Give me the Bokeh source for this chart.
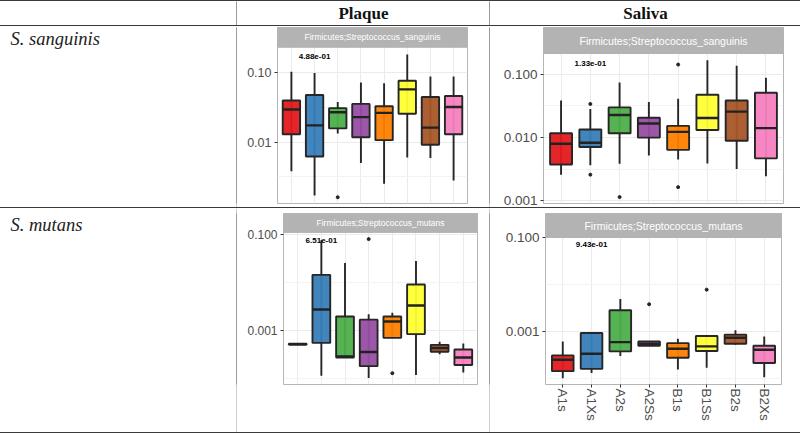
import math
from bokeh.plotting import figure
from bokeh.layouts import column, row
from bokeh.models import (Range1d, FactorRange, FixedTicker, ColumnDataSource, BoxAnnotation,
                          Div)
from bokeh.transform import dodge
from bokeh.core.properties import value
from bokeh.embed import file_html
from bokeh.resources import INLINE

# ---------------- data ----------------
groups = ["A1s", "A1Xs", "A2s", "A2Ss", "B1s", "B1Ss", "B2s", "B2Xs"]
colors = ["#E41A1C", "#377EB8", "#4DAF4A", "#984EA3", "#FF7F00", "#FFFF33", "#A65628", "#F781BF"]

col_headers = ["Plaque", "Saliva"]
row_labels = ["S. sanguinis", "S. mutans"]
strip_titles = ["Firmicutes;Streptococcus_sanguinis", "Firmicutes;Streptococcus_mutans"]

# Plaque, S. sanguinis
ps_low = [0.0038, 0.0017, 0.0134, 0.0050, 0.0025, 0.0060, 0.0059, 0.0028]
ps_q1 = [0.0130, 0.0062, 0.0158, 0.0118, 0.0107, 0.0257, 0.0092, 0.0130]
ps_med = [0.0296, 0.0175, 0.0270, 0.0230, 0.0265, 0.0580, 0.0162, 0.0323]
ps_q3 = [0.0400, 0.0480, 0.0310, 0.0357, 0.0330, 0.0770, 0.0450, 0.0465]
ps_high = [0.1040, 0.1000, 0.0380, 0.0730, 0.0710, 0.1850, 0.0890, 0.0890]
ps_out_g = ["A2s"]
ps_out_v = [0.0016]
ps_p = "4.88e-01"

# Saliva, S. sanguinis
ss_low = [0.0026, 0.00366, 0.00385, 0.0052, 0.0045, 0.0039, 0.0032, 0.00245]
ss_q1 = [0.00375, 0.0071, 0.0117, 0.0100, 0.0064, 0.0132, 0.0089, 0.0047]
ss_med = [0.0080, 0.0083, 0.0227, 0.0167, 0.0123, 0.0204, 0.0257, 0.0141]
ss_q3 = [0.0117, 0.0134, 0.0300, 0.0206, 0.0153, 0.0474, 0.0385, 0.0510]
ss_high = [0.0385, 0.0283, 0.0745, 0.0366, 0.0410, 0.1670, 0.1370, 0.0885]
ss_out_g = ["A1Xs", "A1Xs", "A2s", "B1s", "B1s"]
ss_out_v = [0.034, 0.0026, 0.00115, 0.1425, 0.00165]
ss_p = "1.33e-01"

# Plaque, S. mutans
pm_low = [0.00052, 0.000117, 0.00028, 0.000105, 0.000718, 0.000121, 0.000327, 0.000136]
pm_q1 = [0.00052, 0.000564, 0.000281, 0.000185, 0.000718, 0.00086, 0.000369, 0.000196]
pm_med = [0.00053, 0.00279, 0.000296, 0.000364, 0.00157, 0.0034, 0.000442, 0.000281]
pm_q3 = [0.00054, 0.0147, 0.0020, 0.00172, 0.0020, 0.0093, 0.000514, 0.00041]
pm_high = [0.00054, 0.0774, 0.026, 0.00223, 0.0024, 0.0286, 0.000598, 0.000547]
pm_out_g = ["A2Ss", "B1s"]
pm_out_v = [0.082, 0.000132]
pm_p = "6.51e-01"

# Saliva, S. mutans
sm_low = [0.00010, 0.000128, 0.000296, 0.000493, 0.000153, 0.000166, 0.00052, 0.000105]
sm_q1 = [0.000141, 0.000158, 0.000373, 0.000493, 0.000273, 0.000379, 0.000544, 0.00021]
sm_med = [0.000247, 0.000332, 0.00059, 0.000544, 0.000425, 0.000477, 0.00073, 0.000405]
sm_q3 = [0.000306, 0.00092, 0.00282, 0.00061, 0.00056, 0.000794, 0.00085, 0.000493]
sm_high = [0.00061, 0.00092, 0.00493, 0.00061, 0.000697, 0.000794, 0.00105, 0.00078]
sm_out_g = ["A2Ss", "B1Ss"]
sm_out_v = [0.0038, 0.0078]
sm_p = "9.43e-01"

# ---------------- styling ----------------
LINE = "#3a3a3a"
STRIP = "#b3b3b3"
GRID = "#ebebeb"
AXIS_TXT = "#4d4d4d"
EDGE = "#262626"

COLW = [236, 252, 310]
ROWH = [24, 181, 224]
W = sum(COLW) + 2


def blank(w, h, fill="white"):
    f = figure(width=w, height=h, x_axis_type=None, y_axis_type=None,
               x_range=Range1d(0, w), y_range=Range1d(h, 0),
               toolbar_location=None, output_backend="svg", title=None,
               min_border=0, background_fill_color=fill, border_fill_color=fill,
               outline_line_color=None)
    f.grid.visible = False
    return f


def hline():
    return Div(text="", width=W, height=1, margin=0,
               styles={"background-color": LINE, "width": f"{W}px", "height": "1px"})


def vline(h):
    return blank(1, h, LINE)


def header_cell(w, h, txt):
    f = blank(w, h)
    if txt:
        f.text(x=[w / 2], y=[h / 2], text=[txt], text_align="center",
               text_baseline="middle", text_font=value("Liberation Serif"),
               text_font_style="bold", text_font_size="17px", text_color="#111111")
    return f


def label_cell(w, h, txt):
    f = blank(w, h)
    f.text(x=[10], y=[2], text=[txt], text_align="left", text_baseline="top",
           text_font=value("Liberation Serif"), text_font_style="italic",
           text_font_size="18.5px", text_color="#222222")
    return f


def box_fig(w, top, strip_h, panel_h, bottom, left, right, ylo, yhi, ticks, labels, minor,
            low, q1, med, q3, high, out_g, out_v, ptxt, ptxt_y, title, title_fs, fs, show_x):
    dpp = (math.log10(yhi) - math.log10(ylo)) / panel_h  # decades per pixel
    y_end = 10 ** (math.log10(yhi) + strip_h * dpp)
    y_mid = 10 ** (math.log10(yhi) + strip_h * dpp / 2)
    f = figure(width=w, height=top + strip_h + panel_h + bottom,
               x_range=FactorRange(*groups, range_padding=0.1, range_padding_units="absolute"),
               y_range=Range1d(ylo, y_end), y_axis_type="log",
               toolbar_location=None, output_backend="svg", title=None,
               min_border_left=left, min_border_right=right, min_border_top=top,
               min_border_bottom=bottom, background_fill_color="white",
               border_fill_color="white", outline_line_color="#b5b5b5",
               outline_line_width=1)
    src = ColumnDataSource(dict(g=groups, low=low, q1=q1, med=med, q3=q3, high=high, c=colors))
    f.segment(x0="g", x1="g", y0="low", y1="high", source=src, line_color=EDGE,
              line_width=1.9)
    f.vbar(x="g", bottom="q1", top="q3", width=0.75, source=src, fill_color="c",
           fill_alpha=0.95, line_color=EDGE, line_width=1.9)
    f.rect(x="g", y="med", width=0.75, height=2.4, height_units="screen", source=src,
           fill_color="#222222", line_color=None)
    f.scatter(x=out_g, y=out_v, size=3, color="#222222")
    f.text(x=["A1Xs"], y=[ptxt_y], text=[ptxt], text_align="center", text_baseline="middle",
           text_font=value("Liberation Sans"), text_font_style="bold",
           text_font_size="8px", text_color="black")

    # facet strip (panel strip: full width band above the data area)
    f.add_layout(BoxAnnotation(bottom=yhi, fill_color=STRIP, fill_alpha=1.0,
                               line_color=STRIP, line_alpha=1.0, level="annotation"))
    tsrc = ColumnDataSource(dict(x=[groups[3]], y=[y_mid], t=[title]))
    tr = f.text(x=dodge("x", 0.5, range=f.x_range), y="y", text="t", source=tsrc,
                text_align="center", text_baseline="middle", text_font=value("Liberation Sans"),
                text_font_size=title_fs, text_color="white")
    tr.level = "overlay"

    ya = f.yaxis[0]
    ya.ticker = FixedTicker(ticks=ticks, minor_ticks=minor)
    ya.major_label_overrides = {t: l for t, l in zip(ticks, labels)}
    ya.axis_line_color = None
    ya.major_tick_line_color = "#333333"
    ya.major_tick_out = 3
    ya.major_tick_in = 0
    ya.minor_tick_line_color = None
    ya.major_label_text_font = "Liberation Sans"
    ya.major_label_text_font_size = fs
    ya.major_label_text_color = AXIS_TXT
    ya.major_label_standoff = 2

    xa = f.xaxis[0]
    if show_x:
        xa.axis_line_color = None
        xa.major_tick_line_color = "#333333"
        xa.major_tick_out = 3
        xa.major_tick_in = 0
        xa.major_label_orientation = "vertical"
        xa.major_label_text_font = "Liberation Sans"
        xa.major_label_text_font_size = "13.5px"
        xa.major_label_text_color = AXIS_TXT
        xa.major_label_standoff = 1
    else:
        xa.visible = False

    f.xgrid.grid_line_color = GRID
    f.ygrid.grid_line_color = GRID
    f.ygrid.minor_grid_line_color = "#f3f3f3"
    return f


# ---------------- panels ----------------
p11 = box_fig(COLW[1], 1, 20, 158, 2, 40, 22, 0.0013, 0.235, [0.1, 0.01], ["0.10", "0.01"],
              [0.0316, 0.00316], ps_low, ps_q1, ps_med, ps_q3, ps_high, ps_out_g, ps_out_v,
              ps_p, 0.175, strip_titles[0], "8.5px", "12.5px", False)

p12 = box_fig(COLW[2], 1, 26, 150, 4, 53, 17, 0.00091, 0.213, [0.1, 0.01, 0.001],
              ["0.100", "0.010", "0.001"], [0.0316, 0.00316],
              ss_low, ss_q1, ss_med, ss_q3, ss_high, ss_out_g, ss_out_v,
              ss_p, 0.15, strip_titles[0], "10.5px", "13.5px", False)

p21 = box_fig(COLW[1], 4, 20, 161, 39, 46, 12, 7.67e-5, 0.113, [0.1, 0.001], ["0.100", "0.001"],
              [0.01, 0.0001], pm_low, pm_q1, pm_med, pm_q3, pm_high, pm_out_g, pm_out_v,
              pm_p, 0.078, strip_titles[1], "8.5px", "12px", False)

p22 = box_fig(COLW[2], 5, 24, 147, 48, 55, 19, 7.31e-5, 0.1016, [0.1, 0.001], ["0.100", "0.001"],
              [0.01, 0.0001], sm_low, sm_q1, sm_med, sm_q3, sm_high, sm_out_g, sm_out_v,
              sm_p, 0.072, strip_titles[1], "10.5px", "13.5px", True)

layout = column(
    hline(),
    row(header_cell(COLW[0], ROWH[0], ""), vline(ROWH[0]),
        header_cell(COLW[1], ROWH[0], col_headers[0]), vline(ROWH[0]),
        header_cell(COLW[2], ROWH[0], col_headers[1]), spacing=0),
    hline(),
    row(label_cell(COLW[0], ROWH[1], row_labels[0]), vline(ROWH[1]), p11, vline(ROWH[1]), p12,
        spacing=0),
    hline(),
    row(label_cell(COLW[0], ROWH[2], row_labels[1]), vline(ROWH[2]), p21, vline(ROWH[2]), p22,
        spacing=0),
    hline(),
    spacing=0)

open("out.html", "w").write(file_html(layout, INLINE))
